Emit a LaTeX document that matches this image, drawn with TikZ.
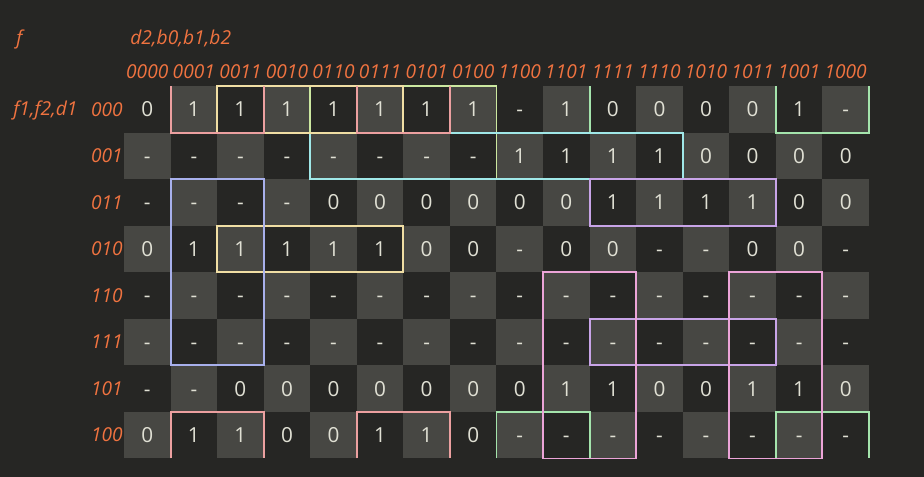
\documentclass[tikz,border=0pt]{standalone}
\usepackage{fontspec}
\setmainfont{Open Sans}
\definecolor{bg}{RGB}{38,38,36}
\definecolor{light}{RGB}{71,71,67}
\definecolor{hdr}{RGB}{240,115,64}
\definecolor{val}{RGB}{224,224,212}
\definecolor{salmon}{RGB}{236,160,160}
\definecolor{yel}{RGB}{240,222,164}
\definecolor{lime}{RGB}{204,232,160}
\definecolor{grn}{RGB}{164,228,172}
\definecolor{cyn}{RGB}{160,232,232}
\definecolor{purp}{RGB}{200,164,232}
\definecolor{blu}{RGB}{168,176,236}
\definecolor{pnk}{RGB}{236,164,216}
\begin{document}
\begin{tikzpicture}[x=0.02cm, y=-0.02cm,
        lbl/.style={text=hdr, inner sep=0, font=\fontsize{10.9}{12}\selectfont\itshape},
        cell/.style={minimum size=0.9312cm, inner sep=0, outer sep=0, text=val, font=\fontsize{11.8}{13}\selectfont},
        grp/.style={line width=1.1pt}]
        \fill[bg] (0,0) rectangle (924,477);
        \useasboundingbox (0,0) rectangle (924,477);

        \node[lbl, anchor=base west] (f) at (16,44) {f};
        \node[lbl, anchor=base west] (cols) at (130,44) {d2,b0,b1,b2};
        \node[lbl, anchor=base west] (rows) at (13,115.5) {f1,f2,d1};

        \foreach \h [count=\c from 0] in {0000,0001,0011,0010,0110,0111,0101,0100,1100,1101,1111,1110,1010,1011,1001,1000}
            \node[lbl, anchor=base] (h-\c) at (147.28+46.56*\c, 78) {\h};
        \foreach \h [count=\r from 0] in {000,001,011,010,110,111,101,100}
            \node[lbl, anchor=base east] (v-\r) at (123, 116+46.56*\r) {\h};

        % cells
        \foreach \r/\vals in {0/{0,1,1,1,1,1,1,1,-,1,0,0,0,0,1,-},
                              1/{-,-,-,-,-,-,-,-,1,1,1,1,0,0,0,0},
                              2/{-,-,-,-,0,0,0,0,0,0,1,1,1,1,0,0},
                              3/{0,1,1,1,1,1,0,0,-,0,0,-,-,0,0,-},
                              4/{-,-,-,-,-,-,-,-,-,-,-,-,-,-,-,-},
                              5/{-,-,-,-,-,-,-,-,-,-,-,-,-,-,-,-},
                              6/{-,-,0,0,0,0,0,0,0,1,1,0,0,1,1,0},
                              7/{0,1,1,0,0,1,1,0,-,-,-,-,-,-,-,-}}
            \foreach \v [count=\c from 0] in \vals {
                \ifodd\numexpr\r+\c\relax \def\cf{light}\else\def\cf{bg}\fi
                \node[cell, fill=\cf] (m-\r-\c) at (147.28+46.56*\c, 109.28+46.56*\r) {\vphantom{0}\v};
            }

        % groups
        \draw[grp, grn] (m-0-8.north west) -- (m-0-8.south west) -- (m-0-9.south east) -- (m-0-9.north east);
        \draw[grp, grn] (m-7-8.south west) -- (m-7-8.north west) -- (m-7-9.north east) -- (m-7-9.south east);
        \draw[grp, grn] (m-0-14.north west) -- (m-0-14.south west) -- (m-0-15.south east) -- (m-0-15.north east);
        \draw[grp, grn] (m-7-14.south west) -- (m-7-14.north west) -- (m-7-15.north east) -- (m-7-15.south east);
        \draw[grp, lime] (m-0-4.north west) rectangle (m-1-7.south east);
        \draw[grp, cyn] (m-1-4.north west) rectangle (m-1-11.south east);
        \draw[grp, yel] (m-0-2.north west) rectangle (m-0-5.south east);
        \draw[grp, yel] (m-3-2.north west) rectangle (m-3-5.south east);
        \draw[grp, salmon] (m-0-1.north west) -- (m-0-1.south west) -- (m-0-2.south east) -- (m-0-2.north east);
        \draw[grp, salmon] (m-7-1.south west) -- (m-7-1.north west) -- (m-7-2.north east) -- (m-7-2.south east);
        \draw[grp, salmon] (m-0-5.north west) -- (m-0-5.south west) -- (m-0-6.south east) -- (m-0-6.north east);
        \draw[grp, salmon] (m-7-5.south west) -- (m-7-5.north west) -- (m-7-6.north east) -- (m-7-6.south east);
        \draw[grp, blu] (m-2-1.north west) rectangle (m-5-2.south east);
        \draw[grp, purp] (m-2-10.north west) rectangle (m-2-13.south east);
        \draw[grp, purp] (m-5-10.north west) rectangle (m-5-13.south east);
        \draw[grp, pnk] (m-4-9.north west) rectangle (m-7-10.south east);
        \draw[grp, pnk] (m-4-13.north west) rectangle (m-7-14.south east);
    \end{tikzpicture}
\end{document}
